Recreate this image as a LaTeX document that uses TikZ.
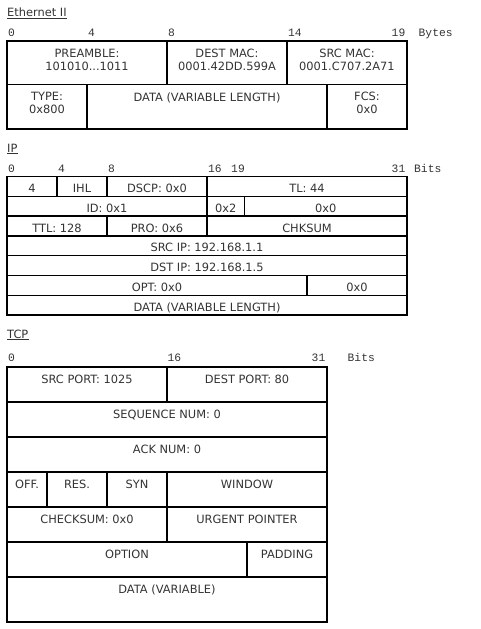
\documentclass[tikz,border=0pt]{standalone}
\usepackage{fontspec}
\newfontfamily\fieldfont{DejaVu Sans}
\newfontfamily\rulerfont{Liberation Mono}
\usetikzlibrary{positioning}
\definecolor{inkgray}{HTML}{333333}

\begin{document}
\begin{tikzpicture}[
			x=1pt, y=-1pt,
			cell/.style={draw=black,line width=1.5pt,anchor=north west,inner sep=0pt,outer sep=0pt},
			ftext/.style={anchor=north,inner sep=0pt,align=center,text=inkgray,font=\fieldfont\fontsize{11.4}{13}\selectfont},
			ruler/.style={anchor=base west,inner sep=0pt,text=inkgray,font=\rulerfont\fontsize{11.3}{13}\selectfont},
			rulerend/.style={ruler,anchor=base east},
			title/.style={anchor=base west,inner sep=0pt,text=inkgray,font=\fieldfont\fontsize{11.4}{13}\selectfont},
			uline/.style={draw=inkgray,line width=0.9pt}
			]
			\useasboundingbox (0,0) rectangle (481,629);
			% titles
			\node[title] (ethtitle) at (7,16.7) {Ethernet II};
			\node[title] (iptitle) at (7,152.3) {IP};
			\node[title] (tcptitle) at (7,338.3) {TCP};
			\foreach \nm in {ethtitle,iptitle,tcptitle}
			\draw[uline] ([yshift=-1.6pt]\nm.base west) -- ([yshift=-1.6pt]\nm.base east);
			% rulers
			\foreach \xl/\txt in {8/0,88/4,168/8,288/14}
			\node[ruler] (eth-r\txt) at (\xl,36.5) {\txt};
			\node[rulerend] (eth-r19) at (405.5,36.5) {19};
			\node[ruler] (eth-unit) at (418.5,36.5) {Bytes};
			\foreach \xl/\txt in {8/0,58/4,108/8,208/16}
			\node[ruler] (ip-r\txt) at (\xl,172.7) {\txt};
			\node[rulerend] (ip-r19) at (245,172.7) {19};
			\node[rulerend] (ip-r31) at (405.5,172.7) {31};
			\node[ruler] (ip-unit) at (414,172.7) {Bits};
			\node[ruler] (tcp-r0) at (8,361.7) {0};
			\node[ruler] (tcp-r16) at (167.5,361.7) {16};
			\node[rulerend] (tcp-r31) at (325.5,361.7) {31};
			\node[ruler] (tcp-unit) at (347.5,361.7) {Bits};
			% Ethernet II
			\foreach \yt/\h/\xl/\xr/\nm/\txt in {
				41/43.5/7/167/preamble/{PREAMBLE:\\101010...1011},
				41/43.5/167/287/dstmac/{DEST MAC:\\0001.42DD.599A},
				41/43.5/287/407/srcmac/{SRC MAC:\\0001.C707.2A71},
				84.5/44.5/7/87/ethtype/{TYPE:\\0x800},
				84.5/44.5/87/327/ethdata/{DATA (VARIABLE LENGTH)},
				84.5/44.5/327/407/fcs/{FCS:\\0x0}}
			{
				\node[cell,minimum width=\xr pt-\xl pt,minimum height=\h pt] (\nm) at (\xl,\yt) {};
				\node[ftext] (\nm-t) [below=7.8pt of \nm.north] {\txt};
			}
			% IP
			\foreach \yt/\xl/\xr/\nm/\txt in {
				176.5/7/57/ver/4, 176.5/57/107/ihl/IHL, 176.5/107/207/dscp/{DSCP: 0x0}, 176.5/207/407/tl/{TL: 44},
				196.3/7/207/ipid/{ID: 0x1}, 196.3/207/244.5/flags/0x2, 196.3/244.5/407/frag/0x0,
				216.1/7/107/ttl/{TTL: 128}, 216.1/107/207/pro/{PRO: 0x6}, 216.1/207/407/ipchk/CHKSUM,
				235.9/7/407/srcip/{SRC IP: 192.168.1.1},
				255.7/7/407/dstip/{DST IP: 192.168.1.5},
				275.5/7/307/opt/{OPT: 0x0}, 275.5/307/407/ippad/0x0,
				295.3/7/407/ipdata/{DATA (VARIABLE LENGTH)}}
			{
				\node[cell,minimum width=\xr pt-\xl pt,minimum height=19.8pt] (\nm) at (\xl,\yt) {};
				\node[ftext] (\nm-t) [below=7.3pt of \nm.north] {\txt};
			}
			% TCP
			\foreach \yt/\h/\xl/\xr/\nm/\txt in {
				367/35/7/167/srcport/{SRC PORT: 1025}, 367/35/167/327/dstport/{DEST PORT: 80},
				402/35/7/327/seqnum/{SEQUENCE NUM: 0},
				437/35/7/327/acknum/{ACK NUM: 0},
				472/35/7/47/off/{OFF.}, 472/35/47/107/res/{RES.}, 472/35/107/167/syn/SYN, 472/35/167/327/window/WINDOW,
				507/35/7/167/tcpchk/{CHECKSUM: 0x0}, 507/35/167/327/urgent/{URGENT POINTER},
				542/35/7/247/option/OPTION, 542/35/247/327/padding/PADDING,
				577/45/7/327/tcpdata/{DATA (VARIABLE)}}
			{
				\node[cell,minimum width=\xr pt-\xl pt,minimum height=\h pt] (\nm) at (\xl,\yt) {};
				\node[ftext] (\nm-t) [below=7.8pt of \nm.north] {\txt};
			}
		\end{tikzpicture}
\end{document}
